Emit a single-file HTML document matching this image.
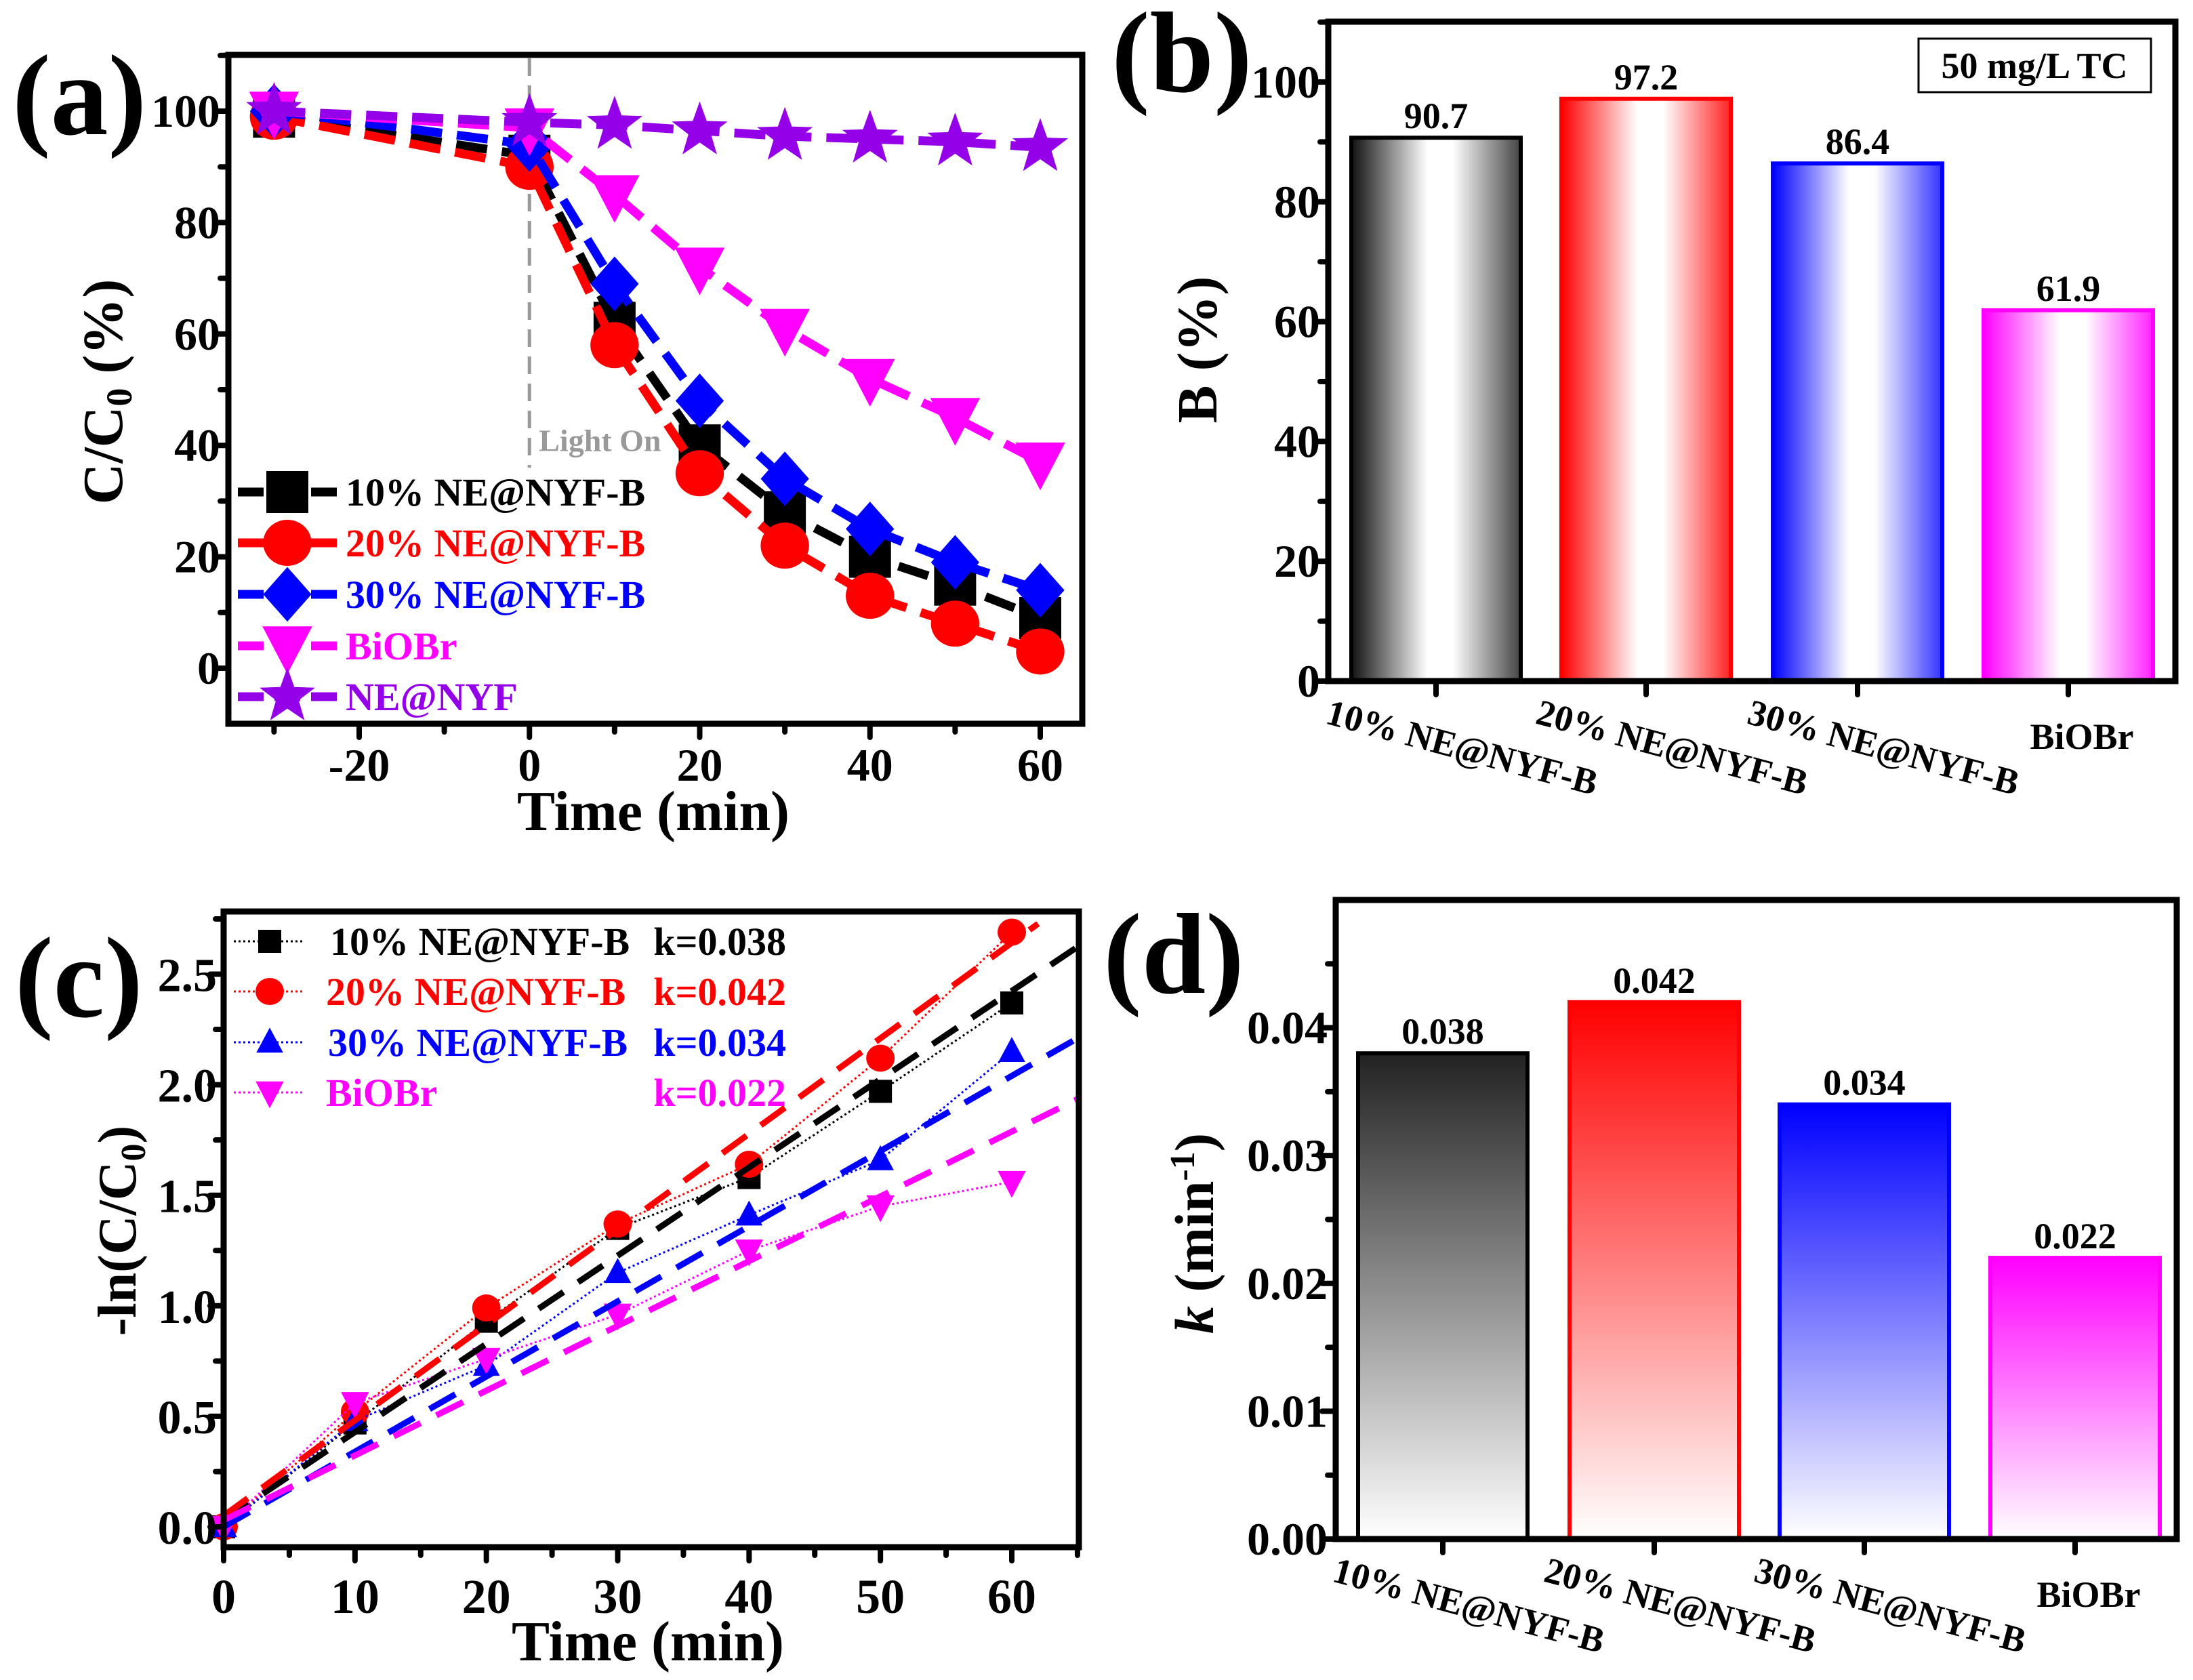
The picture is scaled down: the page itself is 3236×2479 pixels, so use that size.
<!DOCTYPE html>
<html><head><meta charset="utf-8"><style>
html,body{margin:0;padding:0;background:#fff;}
svg{display:block;font-family:"Liberation Serif",serif;font-weight:bold;}
</style></head>
<body>
<svg id="fig" width="3236" height="2479" viewBox="0 0 3236 2479" xmlns="http://www.w3.org/2000/svg">
<defs>
<linearGradient id="gbK" x1="0" x2="1" y1="0" y2="0"><stop offset="0" stop-color="#111"/><stop offset="0.45" stop-color="#fff"/><stop offset="0.6" stop-color="#fff"/><stop offset="1" stop-color="#444"/></linearGradient>
<linearGradient id="gbR" x1="0" x2="1" y1="0" y2="0"><stop offset="0" stop-color="#f00"/><stop offset="0.45" stop-color="#fff"/><stop offset="0.6" stop-color="#fff"/><stop offset="1" stop-color="#f22"/></linearGradient>
<linearGradient id="gbB" x1="0" x2="1" y1="0" y2="0"><stop offset="0" stop-color="#00f"/><stop offset="0.45" stop-color="#fff"/><stop offset="0.6" stop-color="#fff"/><stop offset="1" stop-color="#33f"/></linearGradient>
<linearGradient id="gbM" x1="0" x2="1" y1="0" y2="0"><stop offset="0" stop-color="#f0f"/><stop offset="0.45" stop-color="#fff"/><stop offset="0.6" stop-color="#fff"/><stop offset="1" stop-color="#f2f"/></linearGradient>
<linearGradient id="gdK" x1="0" x2="0" y1="0" y2="1"><stop offset="0" stop-color="#222"/><stop offset="1" stop-color="#fff"/></linearGradient>
<linearGradient id="gdR" x1="0" x2="0" y1="0" y2="1"><stop offset="0" stop-color="#f00"/><stop offset="1" stop-color="#fff"/></linearGradient>
<linearGradient id="gdB" x1="0" x2="0" y1="0" y2="1"><stop offset="0" stop-color="#00f"/><stop offset="1" stop-color="#fff"/></linearGradient>
<linearGradient id="gdM" x1="0" x2="0" y1="0" y2="1"><stop offset="0" stop-color="#f0f"/><stop offset="1" stop-color="#fff"/></linearGradient>
</defs>
</svg>
<script>
// ---------- data ----------
const aTimes = [-30, 0, 10, 20, 30, 40, 50, 60];
const aNames = ["10% NE@NYF-B", "20% NE@NYF-B", "30% NE@NYF-B", "BiOBr", "NE@NYF"];
const a10 = [99, 92, 62, 40, 28, 20, 15, 9];
const a20 = [99, 90, 58, 35, 22, 13, 8, 3];
const a30 = [100, 94, 69, 48, 34, 25, 19, 14];
const aBiOBr = [100, 97, 85, 72, 61, 52, 45, 37];
const aNENYF = [100, 98, 97.5, 96.5, 95.5, 95, 94.5, 93.5];
const aYTicks = [0, 20, 40, 60, 80, 100];
const aXTicks = [-20, 0, 20, 40, 60];

const bCats = ["10% NE@NYF-B", "20% NE@NYF-B", "30% NE@NYF-B", "BiOBr"];
const bValues = [90.7, 97.2, 86.4, 61.9];
const bLabels = ["90.7", "97.2", "86.4", "61.9"];
const bYTicks = [0, 20, 40, 60, 80, 100];

const cTimes = [0, 10, 20, 30, 40, 50, 60];
const c10 = [0, 0.47, 0.93, 1.35, 1.58, 1.97, 2.37];
const c20 = [0, 0.52, 0.99, 1.37, 1.64, 2.12, 2.69];
const c30 = [0, 0.48, 0.73, 1.15, 1.41, 1.66, 2.15];
const cBiOBr = [0, 0.56, 0.76, 0.96, 1.25, 1.45, 1.56];
const cFitSlope = [0.0399, 0.0432, 0.0340, 0.0293];
const cFitIntercept = [0.03, 0.05, 0.0, 0.03];
const cKLabels = ["k=0.038", "k=0.042", "k=0.034", "k=0.022"];
const cYTicks = [0, 0.5, 1.0, 1.5, 2.0, 2.5];
const cXTicks = [0, 10, 20, 30, 40, 50, 60];

const dCats = ["10% NE@NYF-B", "20% NE@NYF-B", "30% NE@NYF-B", "BiOBr"];
const dValues = [0.038, 0.042, 0.034, 0.022];
const dLabels = ["0.038", "0.042", "0.034", "0.022"];
const dYTicks = [0, 0.01, 0.02, 0.03, 0.04];

// ---------- helpers ----------
const NS = "http://www.w3.org/2000/svg";
const svg = document.getElementById("fig");
function mk(tag, at, parent) {
  const e = document.createElementNS(NS, tag);
  for (const k in at) e.setAttribute(k, at[k]);
  (parent || svg).appendChild(e);
  return e;
}
function txt(s, at, parent) { const e = mk("text", at, parent); e.textContent = s; return e; }
function lin(d0, d1, r0, r1) { return v => r0 + (v - d0) * (r1 - r0) / (d1 - d0); }
function starPts(cx, cy, R, r) {
  let p = [];
  for (let i = 0; i < 10; i++) {
    const ang = -Math.PI / 2 + i * Math.PI / 5;
    const rr = i % 2 ? r : R;
    p.push((cx + rr * Math.cos(ang)).toFixed(1) + "," + (cy + rr * Math.sin(ang)).toFixed(1));
  }
  return p.join(" ");
}
function marker(shape, cx, cy, s, color, parent) {
  let e;
  if (shape === "square") e = mk("rect", {x: cx - s, y: cy - s, width: 2 * s, height: 2 * s, fill: color}, parent);
  else if (shape === "circle") e = mk("ellipse", {cx: cx, cy: cy, rx: s * 1.05, ry: s * 1.0, fill: color}, parent);
  else if (shape === "diamond") e = mk("polygon", {points: `${cx},${cy - s * 1.3} ${cx + s * 1.15},${cy} ${cx},${cy + s * 1.3} ${cx - s * 1.15},${cy}`, fill: color}, parent);
  else if (shape === "tridown") e = mk("polygon", {points: `${cx - s * 1.15},${cy - s * 0.9} ${cx + s * 1.15},${cy - s * 0.9} ${cx},${cy + s * 1.3}`, fill: color}, parent);
  else if (shape === "triup") e = mk("polygon", {points: `${cx - s * 1.1},${cy + s * 0.85} ${cx + s * 1.1},${cy + s * 0.85} ${cx},${cy - s * 1.2}`, fill: color}, parent);
  else e = mk("polygon", {points: starPts(cx, cy, s * 1.35, s * 0.55), fill: color}, parent);
  return e;
}
function frame(x0, y0, x1, y1, parent) {
  return mk("rect", {x: x0, y: y0, width: x1 - x0, height: y1 - y0, fill: "none", stroke: "#000", "stroke-width": 9}, parent);
}
function yTick(xAxis, y, len, parent) { return mk("line", {x1: xAxis, x2: xAxis - len, y1: y, y2: y, stroke: "#000", "stroke-width": 8, "stroke-linecap": "round"}, parent); }
function xTick(x, yAxis, len, parent) { return mk("line", {x1: x, x2: x, y1: yAxis, y2: yAxis + len, stroke: "#000", "stroke-width": 8, "stroke-linecap": "round"}, parent); }

const colors = ["#000", "#f00", "#00f", "#f0f", "#9400e8"];

// ================= Panel (a) =================
{
  const g = mk("g", {});
  
  
  const L = 337, R = 1597, T = 81, B = 1068;
  const X = lin(-20, 60, 530, 1535), Y = lin(0, 100, 986, 164);
  const lo = mk("line", {x1: X(0), x2: X(0), y1: T + 5, y2: Y(36), stroke: "#999", "stroke-width": 5, "stroke-dasharray": "26,14"}, g);
  
  
  const lt = txt("Light On", {x: X(0) + 14, y: Y(39), "font-size": 46, fill: "#999"}, g);
  
  
  const series = [a10, a20, a30, aBiOBr, aNENYF];
  const shapes = ["square", "circle", "diamond", "tridown", "star"];
  const sizes = [31, 34, 31, 32, 32];
  series.forEach((vals, si) => {
    const sg = mk("g", {}, g);
    
    
    const pts = vals.map((v, i) => X(aTimes[i]) + "," + Y(v)).join(" ");
    const pl = mk("polyline", {points: pts, fill: "none", stroke: colors[si], "stroke-width": 13, "stroke-dasharray": "46,22"}, sg);
    
    
    vals.forEach((v, i) => {
      const m = marker(shapes[si], X(aTimes[i]), Y(v), sizes[si], colors[si], sg);
      
      
    });
  });
  const legY = [726, 801, 877, 953, 1028];
  aNames.forEach((n, i) => {
    const lg = mk("g", {}, g);
    
    
    const l = mk("line", {x1: 351, x2: 497, y1: legY[i], y2: legY[i], stroke: colors[i], "stroke-width": 13, "stroke-dasharray": "38,16"}, lg);
    
    
    const m = marker(shapes[i], 424, legY[i], sizes[i], colors[i], lg);
    
    
    const t = txt(n, {x: 510, y: legY[i] + 20, "font-size": 58, fill: colors[i]}, lg);
    
    
  });
  const f = frame(L, T, R, B, g);
  
  
  for (let v = -10; v <= 110; v += 10) {
    const y = Y(v); if (y < T || y > B) continue;
    const major = aYTicks.includes(v);
    const t = yTick(L, y, major ? 20 : 12, g);
    
    
  }
  aYTicks.forEach(v => {
    const t = txt(String(v), {x: L - 12, y: Y(v) + 23, "font-size": 68, "text-anchor": "end"}, g);
    
    
  });
  for (let v = -30; v <= 60; v += 10) {
    const major = aXTicks.includes(v);
    const t = xTick(X(v), B, major ? 20 : 12, g);
    
    
  }
  aXTicks.forEach(v => {
    const t = txt(String(v), {x: X(v), y: 1152, "font-size": 68, "text-anchor": "middle"}, g);
    
    
  });
  const xt = txt("Time (min)", {x: 964, y: 1225, "font-size": 84, "text-anchor": "middle"}, g);
  
  
  const yt = mk("text", {x: 0, y: 0, "font-size": 84, "text-anchor": "middle", transform: "translate(180,578) rotate(-90)"}, g);
  
  
  yt.innerHTML = 'C/C<tspan font-size="54" dy="14">0</tspan><tspan dy="-14"> (%)</tspan>';
  const pl = txt("(a)", {x: 18, y: 198, "font-size": 170}, g);
  
  
}

// ================= bar panel helper =================
function barPanel(cfg) {
  const g = mk("g", {});
  
  
  const {L, R, T, B, Y, vals, labels, cats, grads, strokes, barX, barW} = cfg;
  vals.forEach((v, i) => {
    const r = mk("rect", {x: barX[i], y: Y(v), width: barW, height: B - Y(v), fill: "url(#" + grads[i] + ")", stroke: strokes[i], "stroke-width": 6}, g);
    
    
    const t = txt(labels[i], {x: barX[i] + barW / 2, y: Y(v) - 14, "font-size": 54, "text-anchor": "middle"}, g);
    
    
    const tk = xTick(barX[i] + barW / 2, B, 20, g);
    
    
    let lab;
    if (i < 3) lab = txt(cats[i], {x: 0, y: 0, "font-size": 54, transform: `translate(${barX[i] - 40},${B + 62}) rotate(15)`}, g);
    else lab = txt(cats[i], {x: barX[i] + barW / 2 + 20, y: B + 100, "font-size": 54, "text-anchor": "middle"}, g);
    
    
  });
  const f = frame(L, T, R, B, g);
  
  
  cfg.minor.forEach(v => {
    const t = yTick(L, Y(v), 12, g);
    
    
  });
  cfg.ticks.forEach(v => {
    const t = yTick(L, Y(v), 20, g);
    
    
    const l = txt(cfg.fmt(v), {x: L - 12, y: Y(v) + 23, "font-size": 68, "text-anchor": "end"}, g);
    
    
  });
  return g;
}
// ================= Panel (b) =================
{
  const Y = lin(0, 100, 1005, 121);
  const g = barPanel({name: 'panel-b', key: 'b', L: 1960, R: 3210, T: 32, B: 1005, Y, vals: bValues, labels: bLabels, cats: bCats,
    grads: ["gbK", "gbR", "gbB", "gbM"], strokes: ["#000", "#f00", "#00f", "#f0f"],
    barX: [1994, 2304, 2616, 2927], barW: 250, ticks: bYTicks, minor: [10, 30, 50, 70, 90, 110].filter(v => Y(v) > 32), fmt: v => String(v)});
  const lb = mk("rect", {x: 2831, y: 57, width: 343, height: 79, fill: "#fff", stroke: "#000", "stroke-width": 3}, g);
  
  
  const lt = txt("50 mg/L TC", {x: 3002, y: 115, "font-size": 54, "text-anchor": "middle"}, g);
  
  
  const yt = txt("B (%)", {x: 0, y: 0, "font-size": 84, "text-anchor": "middle", transform: "translate(1795,516) rotate(-90)"}, g);
  
  
  const pl = txt("(b)", {x: 1640, y: 135, "font-size": 170}, g);
  
  
}

// ================= Panel (c) =================
{
  const g = mk("g", {});
  
  
  const L = 330, R = 1592, T = 1345, B = 2283;
  const X = lin(0, 60, 330, 1493), Y = lin(0, 2.5, 2253, 1437.5);
  const series = [c10, c20, c30, cBiOBr];
  const shapes = ["square", "circle", "triup", "tridown"];
  const sizes = [17, 20, 18, 18];
  series.forEach((vals, si) => {
    const sg = mk("g", {}, g);
    
    
    const pts = vals.map((v, i) => X(cTimes[i]) + "," + Y(v)).join(" ");
    const pl = mk("polyline", {points: pts, fill: "none", stroke: colors[si], "stroke-width": 3, "stroke-dasharray": "3,4"}, sg);
    
    
    vals.forEach((v, i) => {
      const m = marker(shapes[si], X(cTimes[i]), Y(v), sizes[si], colors[si], sg);
      
      
    });
  });
  const fitEnd = [65, 62, 65, 65];
  cFitSlope.forEach((k, si) => {
    const b = cFitIntercept[si];
    const fl = mk("line", {x1: X(0), y1: Y(b), x2: X(fitEnd[si]), y2: Y(b + k * fitEnd[si]), stroke: colors[si], "stroke-width": 9, "stroke-dasharray": "44,26"}, g);
    
    
  });
  const legY = [1389, 1463, 1538, 1612];
  const lx = [487, 481, 484, 481];
  aNames.slice(0, 4).forEach((n, i) => {
    const lg = mk("g", {}, g);
    
    
    const l = mk("line", {x1: 345, x2: 450, y1: legY[i], y2: legY[i], stroke: colors[i], "stroke-width": 3, "stroke-dasharray": "3,4"}, lg);
    
    
    const m = marker(shapes[i], 398, legY[i], sizes[i], colors[i], lg);
    
    
    const t = txt(n, {x: lx[i], y: legY[i] + 20, "font-size": 58, fill: colors[i]}, lg);
    
    
    const k = txt(cKLabels[i], {x: 1160, y: legY[i] + 20, "font-size": 58, fill: colors[i], "text-anchor": "end"}, lg);
    
    
  });
  const f = frame(L, T, R, B, g);
  
  
  for (let v = 0; v <= 2.76; v += 0.25) {
    const major = Math.abs(v * 2 - Math.round(v * 2)) < 1e-6;
    const t = yTick(L, Y(v), major ? 20 : 12, g);
    
    
  }
  cYTicks.forEach(v => {
    const t = txt(v.toFixed(1), {x: L - 10, y: Y(v) + 25, "font-size": 70, "text-anchor": "end"}, g);
    
    
  });
  for (let v = 0; v <= 65; v += 5) {
    const t = xTick(X(v), B, v % 10 === 0 ? 20 : 12, g);
    
    
  }
  cXTicks.forEach(v => {
    const t = txt(String(v), {x: X(v), y: 2380, "font-size": 72, "text-anchor": "middle"}, g);
    
    
  });
  const xt = txt("Time (min)", {x: 956, y: 2450, "font-size": 84, "text-anchor": "middle"}, g);
  
  
  const yt = mk("text", {x: 0, y: 0, "font-size": 80, "text-anchor": "middle", transform: "translate(200,1816) rotate(-90)"}, g);
  
  
  yt.innerHTML = '-ln(C/C<tspan font-size="52" dy="14">0</tspan><tspan dy="-14">)</tspan>';
  const pl = txt("(c)", {x: 22, y: 1500, "font-size": 170}, g);
  
  
}

// ================= Panel (d) =================
{
  const Y = lin(0, 0.04, 2271, 1516.5);
  const minor = [];
  for (let v = 0.005; v < 0.049; v += 0.01) minor.push(v);
  const g = barPanel({name: 'panel-d', key: 'd', L: 1971, R: 3212, T: 1328, B: 2271, Y, vals: dValues, labels: dLabels, cats: dCats,
    grads: ["gdK", "gdR", "gdB", "gdM"], strokes: ["#000", "#f00", "#00f", "#f0f"],
    barX: [2004, 2316, 2626, 2937], barW: 250, ticks: dYTicks, minor: minor, fmt: v => v.toFixed(2)});
  const yt = mk("text", {x: 0, y: 0, "font-size": 82, "text-anchor": "middle", transform: "translate(1790,1820) rotate(-90)"}, g);
  
  
  yt.innerHTML = '<tspan font-style="italic">k</tspan> (min<tspan font-size="52" dy="-28">-1</tspan><tspan dy="28">)</tspan>';
  const pl = txt("(d)", {x: 1628, y: 1465, "font-size": 170}, g);
  
  
}
</script>
</body></html>
